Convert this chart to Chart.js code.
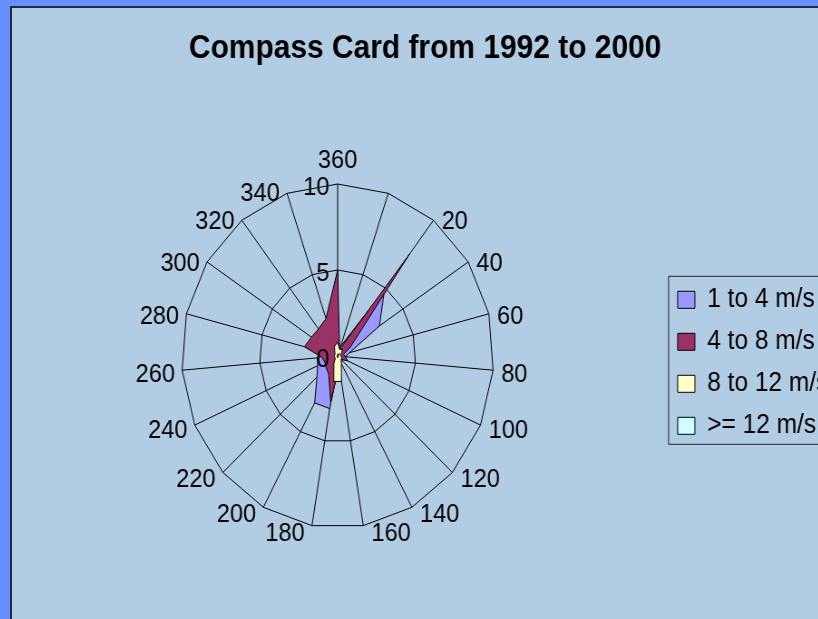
<!DOCTYPE html>
<html>
<head>
<meta charset="utf-8">
<script src="https://cdn.jsdelivr.net/npm/chart.js@4"></script>
<style>
  body { margin: 0; width: 818px; height: 619px; overflow: hidden; background: #6690FF; }
  #panel { position: absolute; left: 10px; top: 6px; width: 808px; height: 613px; background: #B2CCE4;
           border-left: 2px solid #1E2B44; border-top: 2px solid #1E2B44; box-sizing: border-box; overflow: hidden; }
  #wrap { width: 920px; height: 611px; transform: scaleX(0.907); transform-origin: 0 0; }
  canvas { display: block; }
</style>
</head>
<body>
<div id="panel"><div id="wrap"><canvas id="myChart" width="920" height="611"></canvas></div></div>
<script>
// wind directions (degrees), one spoke each
const directions = ['360', '', '20', '40', '60', '80', '100', '120', '140', '160', '180', '200', '220', '240', '260', '280', '300', '320', '340'];
const seriesNames = ['1 to 4 m/s', '4 to 8 m/s', '8 to 12 m/s', '>= 12 m/s'];
const speed1to4 = [0.5, 0.6, 4.9, 3.2, 0.8, 0.5, 0.4, 0.4, 0.4, 0.5, 3.1, 3.1, 1.8, 1.4, 1.3, 0.6, 0.4, 0.3, 0.3];
const speed4to8 = [5.0, 0.4, 7.5, 1.0, 0.4, 0.5, 0.7, 0.3, 0.3, 0.6, 2.7, 1.2, 1.0, 0.9, 1.0, 2.2, 2.0, 2.0, 2.3];
const speed8to12 = [0.8, 0.4, 0.5, 0.3, 0.2, 0.2, 0.3, 0.3, 0.5, 1.5, 1.5, 0.5, 0.2, 0.2, 0.2, 0.2, 0.2, 0.3, 0.6];
const speed12up = [0.1, 0, 0.2, 0.1, 0, 0, 0, 0, 0, 0.1, 0.1, 0, 0, 0, 0, 0, 0, 0, 0];
const axisTicks = [0, 5, 10];

const colors = ['#9999FF', '#993366', '#FFFFCC', '#CCFFFF'];
const allData = [speed1to4, speed4to8, speed8to12, speed12up];
const fontFamily = "'Liberation Sans', Arial, sans-serif";
Chart.defaults.font.family = fontFamily;
Chart.defaults.color = '#000';

// Excel style labels: value ticks left of north spoke, directions beside each corner
const radarLabels = {
    id: 'radarLabels',
    afterDraw(chart) {
        const r = chart.scales.r;
        const c = chart.ctx;
        c.save();
        c.font = '26px ' + fontFamily;
        c.fillStyle = '#000';
        c.textBaseline = 'middle';
        c.textAlign = 'right';
        axisTicks.forEach(v => {
            const p = r.getPointPositionForValue(0, v);
            c.fillText(String(v), p.x - 9, p.y + 4);
        });
        directions.forEach((lab, i) => {
            if (!lab) return;
            const p = r.getPointPosition(i, r.drawingArea);
            const a = r.getIndexAngle(i);
            const sx = Math.sin(a);
            if (Math.abs(sx) < 0.01) {
                c.textAlign = 'center';
                c.fillText(lab, p.x, p.y - 23);
                return;
            }
            const y = p.y + 4.5 - 4 * Math.cos(a);
            if (sx > 0) {
                c.textAlign = 'left';
                c.fillText(lab, p.x + 9, y);
            } else {
                c.textAlign = 'right';
                c.fillText(lab, p.x - 8, y);
            }
        });
        c.restore();
    }
};

// frame round the legend
const legendFrame = {
    id: 'legendFrame',
    afterDraw(chart) {
        const hb = chart.legend.legendHitBoxes;
        if (!hb || !hb.length) return;
        const first = hb[0], last = hb[hb.length - 1];
        const c = chart.ctx;
        c.save();
        c.strokeStyle = '#222';
        c.lineWidth = 1;
        const y0 = first.top - 10;
        const y1 = last.top + last.height + 5;
        c.strokeRect(first.left - 10, y0, 400, y1 - y0);
        c.restore();
    }
};

const ctx = document.getElementById('myChart');
const myChart = new Chart(ctx, {
    type: 'radar',
    data: {
        labels: directions,
        datasets: seriesNames.map((name, i) => ({
            label: name,
            data: allData[i],
            backgroundColor: colors[i],
            borderColor: '#000',
            borderWidth: 1,
            pointRadius: 0,
            fill: true,
            order: seriesNames.length - i
        }))
    },
    options: {
        responsive: false,
        animation: false,
        layout: { padding: { left: 1, right: 10, top: 0, bottom: 90 } },
        plugins: {
            title: {
                display: true,
                text: 'Compass Card from 1992 to 2000',
                color: '#000',
                font: { size: 33, weight: 'bold' },
                padding: { top: 21, bottom: 116 }
            },
            legend: {
                position: 'right',
                fullSize: false,
                reverse: true,
                // blank legend title only nudges the items down a little
                title: { display: true, text: ' ', font: { size: 10 }, padding: 0 },
                labels: { boxWidth: 19, boxHeight: 17, padding: 15, font: { size: 27 }, color: '#000' }
            },
            tooltip: { enabled: false }
        },
        scales: {
            r: {
                min: 0,
                max: 10,
                z: 1,
                ticks: { display: false, stepSize: 5 },
                grid: { color: '#000', lineWidth: 1 },
                angleLines: { color: '#000', lineWidth: 1 },
                pointLabels: { display: false }
            }
        }
    },
    plugins: [radarLabels, legendFrame]
});
</script>
</body>
</html>
